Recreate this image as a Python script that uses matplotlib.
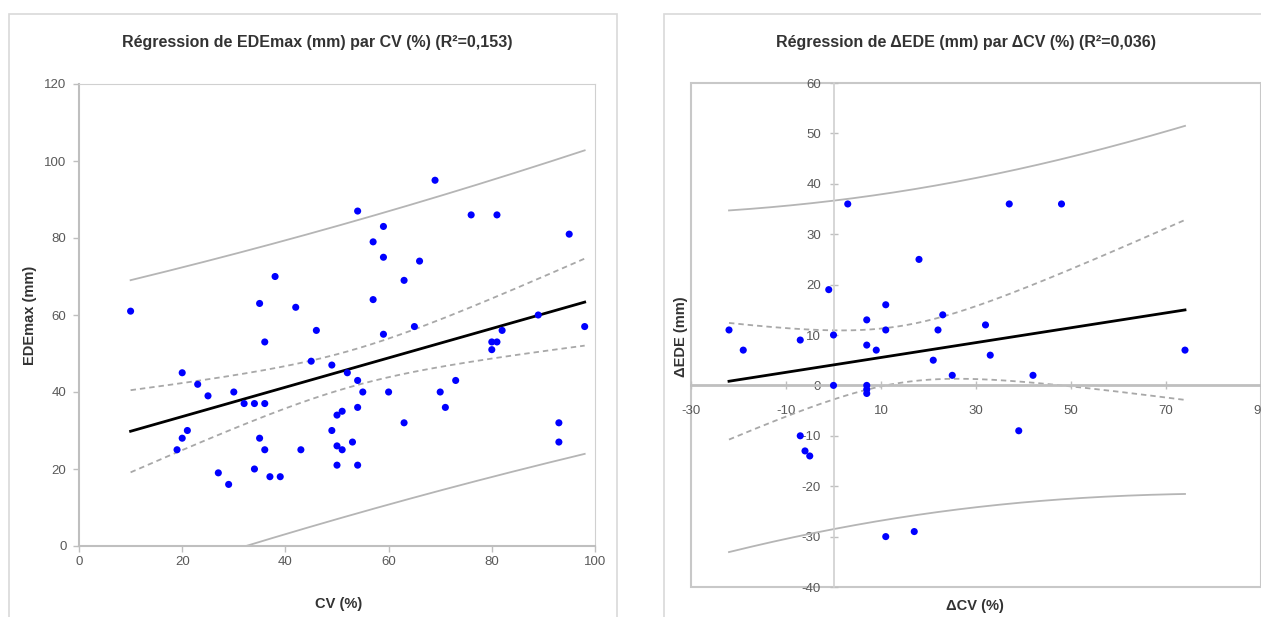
import matplotlib.pyplot as plt
import numpy as np
from matplotlib.patches import Rectangle

plt.rcParams['font.family'] = ['Liberation Sans Narrow', 'Liberation Sans', 'DejaVu Sans']
plt.rcParams['axes.unicode_minus'] = False

# left chart: EDEmax (mm) vs CV (%)
cv = [10, 20, 23, 25, 30, 32, 34, 36, 21, 20, 19, 27, 29, 34, 37, 39,
      35, 36, 36, 35, 38, 42, 46, 45, 43, 49, 49, 50, 51, 50, 51, 50,
      52, 53, 54, 54, 54, 54, 55, 57, 57, 59, 59, 59, 60, 63, 63, 65,
      66, 69, 70, 71, 73, 76, 81, 80, 81, 80, 82, 89, 95, 93, 93, 98]
edemax = [61, 45, 42, 39, 40, 37, 37, 37, 30, 28, 25, 19, 16, 20, 18, 18,
          28, 25, 53, 63, 70, 62, 56, 48, 25, 47, 30, 34, 35, 26, 25, 21,
          45, 27, 36, 43, 21, 87, 40, 79, 64, 83, 75, 55, 40, 69, 32, 57,
          74, 95, 40, 36, 43, 86, 86, 53, 53, 51, 56, 60, 81, 32, 27, 57]

# right chart: delta EDE (mm) vs delta CV (%)
dcv = [-22, -19, -7, -7, -6, -5, -1, 0, 0, 3, 7, 7, 7, 7, 7, 9,
       11, 11, 11, 17, 18, 21, 22, 23, 25, 32, 33, 37, 39, 42, 48, 74]
dede = [11, 7, 9, -10, -13, -14, 19, 10, 0, 36, 13, 8, 0, -0.8, -1.6, 7,
        16, 11, -30, -29, 25, 5, 11, 14, 2, 12, 6, 36, -9, 2, 36, 7]

titles = ['Régression de EDEmax (mm) par CV (%) (R²=0,153)',
          'Régression de ΔEDE (mm) par ΔCV (%) (R²=0,036)']

W, H = 1261, 617
fig = plt.figure(figsize=(W / 100, H / 100), dpi=100)

TXT = '#595959'
GRID = '#bfbfbf'


def bands(x, y, t):
    x = np.asarray(x, float)
    y = np.asarray(y, float)
    n = len(x)
    b, a = np.polyfit(x, y, 1)
    s = np.sqrt(np.sum((y - a - b * x) ** 2) / (n - 2))
    sxx = np.sum((x - x.mean()) ** 2)
    xs = np.linspace(x.min(), x.max(), 200)
    yh = a + b * xs
    ci = t * s * np.sqrt(1 / n + (xs - x.mean()) ** 2 / sxx)
    pi = t * s * np.sqrt(1 + 1 / n + (xs - x.mean()) ** 2 / sxx)
    return xs, yh, ci, pi


def draw_fit(ax, x, y, t):
    xs, yh, ci, pi = bands(x, y, t)
    ax.plot(xs, yh + pi, color='#b5b5b5', lw=1.3, zorder=2)
    ax.plot(xs, yh - pi, color='#b5b5b5', lw=1.3, zorder=2)
    ax.plot(xs, yh + ci, color='#a8a8a8', lw=1.3, ls=(0, (3, 2.2)), zorder=2)
    ax.plot(xs, yh - ci, color='#a8a8a8', lw=1.3, ls=(0, (3, 2.2)), zorder=2)
    ax.plot(xs, yh, color='black', lw=2.0, zorder=3)
    ax.scatter(x, y, s=26, color='#0000ff', edgecolors='none', zorder=4)


# chart area borders
fig.add_artist(Rectangle((9 / W, -0.02), 608 / W, 1 - 14 / H + 0.02,
                         transform=fig.transFigure, fill=False,
                         edgecolor='#d9d9d9', lw=1.2))
fig.add_artist(Rectangle((664 / W, -0.02), 1 - 664 / W + 0.02, 1 - 14 / H + 0.02,
                         transform=fig.transFigure, fill=False,
                         edgecolor='#d9d9d9', lw=1.2))

# ---- left panel
ax1 = fig.add_axes([79 / W, (H - 546) / H, 516 / W, 462 / H])
draw_fit(ax1, cv, edemax, 2.0)
ax1.set_xlim(0, 100)
ax1.set_ylim(0, 120)
ax1.set_xticks(np.arange(0, 101, 20))
ax1.set_yticks(np.arange(0, 121, 20))
for side in ['top', 'right']:
    ax1.spines[side].set_color('#d0d0d0')
for side in ['left', 'bottom']:
    ax1.spines[side].set_color(GRID)
    ax1.spines[side].set_linewidth(1.5)
ax1.tick_params(colors=GRID, labelcolor=TXT, labelsize=9.5, length=4, width=1)
ax1.tick_params(axis='y', pad=5)
ax1.tick_params(axis='x', pad=3)

fig.text(317 / W, 1 - 42 / H, titles[0], ha='center', va='center',
         fontsize=11.5, fontweight='bold', color='#333333')
fig.text(30 / W, 1 - 315 / H, 'EDEmax (mm)', rotation=90, ha='center',
         va='center', fontsize=10.5, fontweight='bold', color='#333333')
fig.text(339 / W, 1 - 604 / H, 'CV (%)', ha='center', va='center',
         fontsize=10.5, fontweight='bold', color='#333333')

# ---- right panel
ax2 = fig.add_axes([691 / W, (H - 587) / H, (W - 691) / W, 504 / H])
draw_fit(ax2, dcv, dede, 2.045)
ax2.set_xlim(-30, 90)
ax2.set_ylim(-40, 60)
ax2.set_xticks(np.arange(-30, 91, 20))
ax2.set_yticks(np.arange(-40, 61, 10))
for side in ['top', 'right']:
    ax2.spines[side].set_visible(False)
ax2.spines['left'].set_position(('data', 0))
ax2.spines['bottom'].set_position(('data', 0))
ax2.spines['left'].set_color('#d0d0d0')
ax2.spines['left'].set_linewidth(1.2)
ax2.spines['bottom'].set_color(GRID)
ax2.spines['bottom'].set_linewidth(2.0)
ax2.add_patch(Rectangle((0, 0), 1, 1, transform=ax2.transAxes, fill=False,
                        edgecolor='#c8c8c8', lw=1.5, clip_on=False, zorder=1))
ax2.tick_params(colors=GRID, labelcolor=TXT, labelsize=9.5, length=6,
                width=1, direction='inout')
ax2.tick_params(axis='y', pad=6)
ax2.tick_params(axis='x', pad=11)

fig.text(966 / W, 1 - 42 / H, titles[1], ha='center', va='center',
         fontsize=11.5, fontweight='bold', color='#333333')
fig.text(681 / W, 1 - 337 / H, 'ΔEDE (mm)', rotation=90, ha='center',
         va='center', fontsize=10.5, fontweight='bold', color='#333333')
fig.text(975 / W, 1 - 606 / H, 'ΔCV (%)', ha='center', va='center',
         fontsize=10.5, fontweight='bold', color='#333333')

fig.savefig('out.png', dpi=100)
